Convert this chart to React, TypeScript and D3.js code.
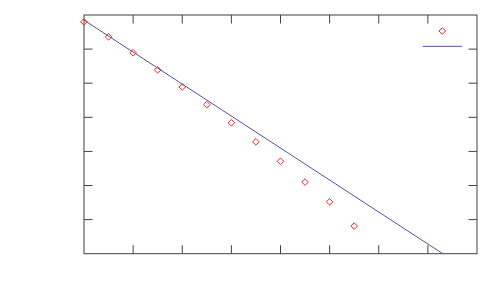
import React from "react";
import * as d3 from "d3";

const xValues = [0, 0.5, 1, 1.5, 2, 2.5, 3, 3.5, 4, 4.5, 5, 5.5];
const yValues = [6.8, 6.36, 5.89, 5.39, 4.89, 4.37, 3.84, 3.28, 2.71, 2.1, 1.52, 0.81];
const fitIntercept = 6.85;
const fitSlope = -0.938;
const xTicks = [0, 1, 2, 3, 4, 5, 6, 7, 8];
const yTicks = [0, 1, 2, 3, 4, 5, 6, 7];

const W = 500;
const H = 300;
const left = 84;
const right = 477;
const top = 15;
const bottom = 253.7;

export default function App() {
  const x = d3.scaleLinear().domain([0, 8]).range([left, right]);
  const y = d3.scaleLinear().domain([0, 7]).range([bottom, top]);
  const xEnd = -fitIntercept / fitSlope;
  const fitPts: [number, number][] = [
    [0, fitIntercept],
    [xEnd, 0],
  ];
  const line = d3
    .line<[number, number]>()
    .x((d) => x(d[0]))
    .y((d) => y(d[1]));
  const diamond = (cx: number, cy: number, r = 3.3) =>
    `M${cx},${cy - r}L${cx + r},${cy}L${cx},${cy + r}L${cx - r},${cy}Z`;
  const tickLen = 8.5;
  const axisColor = "#404040";
  return (
    <svg
      width={W}
      height={H}
      style={{ position: "fixed", top: 0, left: 0, display: "block", background: "#fff" }}
    >
      <defs>
        <clipPath id="plotclip">
          <rect x={left} y={top} width={right - left} height={bottom - top} />
        </clipPath>
      </defs>
      {xTicks.slice(1, -1).map((t) => (
        <g key={"xt" + t} stroke={axisColor} strokeWidth={1}>
          <line x1={x(t)} x2={x(t)} y1={bottom} y2={bottom - tickLen} />
          <line x1={x(t)} x2={x(t)} y1={top} y2={top + tickLen} />
        </g>
      ))}
      {yTicks.slice(1, -1).map((t) => (
        <g key={"yt" + t} stroke={axisColor} strokeWidth={1}>
          <line x1={left} x2={left + tickLen} y1={y(t)} y2={y(t)} />
          <line x1={right} x2={right - tickLen} y1={y(t)} y2={y(t)} />
        </g>
      ))}
      <g clipPath="url(#plotclip)">
        <path d={line(fitPts) || ""} fill="none" stroke="#5050a8" strokeWidth={1} />
      </g>
      <rect
        x={left}
        y={top}
        width={right - left}
        height={bottom - top}
        fill="none"
        stroke={axisColor}
        strokeWidth={1}
      />
      {xValues.map((xv, i) => (
        <path
          key={"p" + i}
          d={diamond(x(xv), y(yValues[i]))}
          fill="none"
          stroke="#ff2020"
          strokeWidth={1}
        />
      ))}
      <path d={diamond(442.3, 31)} fill="none" stroke="#ff2020" strokeWidth={1} />
      <line x1={422.7} x2={462} y1={46.3} y2={46.3} stroke="#5050a8" strokeWidth={1} />
    </svg>
  );
}
